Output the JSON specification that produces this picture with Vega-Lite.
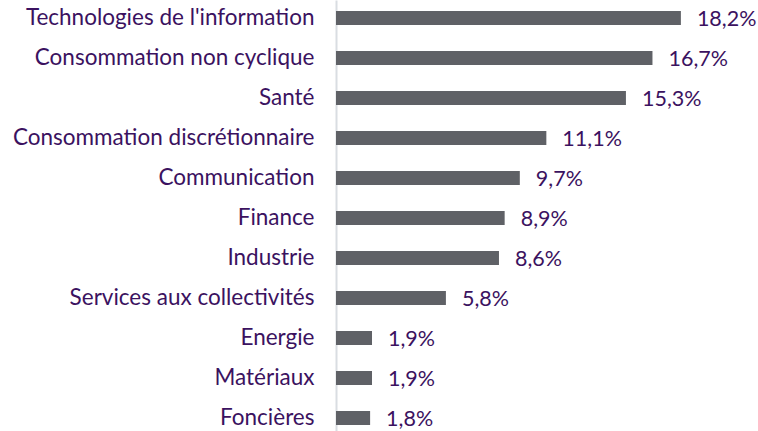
{
  "$schema": "https://vega.github.io/schema/vega-lite/v6.json",
  "width": 379,
  "height": 436,
  "autosize": {"type": "none"},
  "padding": {"left": 336, "top": 0, "right": 43, "bottom": 0},
  "background": "white",
  "config": {"view": {"stroke": null}, "font": "Lato"},
  "data": {
    "values": [
      {"secteur": "Technologies de l'information", "valeur": 18.2, "label": "18,2%"},
      {"secteur": "Consommation non cyclique", "valeur": 16.7, "label": "16,7%"},
      {"secteur": "Santé", "valeur": 15.3, "label": "15,3%"},
      {"secteur": "Consommation discrétionnaire", "valeur": 11.1, "label": "11,1%"},
      {"secteur": "Communication", "valeur": 9.7, "label": "9,7%"},
      {"secteur": "Finance", "valeur": 8.9, "label": "8,9%"},
      {"secteur": "Industrie", "valeur": 8.6, "label": "8,6%"},
      {"secteur": "Services aux collectivités", "valeur": 5.8, "label": "5,8%"},
      {"secteur": "Energie", "valeur": 1.9, "label": "1,9%"},
      {"secteur": "Matériaux", "valeur": 1.9, "label": "1,9%"},
      {"secteur": "Foncières", "valeur": 1.8, "label": "1,8%"}
    ]
  },
  "encoding": {
    "y": {
      "field": "secteur",
      "type": "nominal",
      "sort": null,
      "scale": {"paddingInner": 0.65, "paddingOuter": 0.275},
      "axis": {
        "title": null,
        "ticks": false,
        "labelPadding": 22,
        "labelFontSize": 22.5,
        "labelColor": "#3b1260",
        "labelFont": "Lato",
        "domainColor": "#d9dde2",
        "domainWidth": 2,
        "labelLimit": 400
      }
    },
    "x": {
      "field": "valeur",
      "type": "quantitative",
      "scale": {"domain": [0, 20]},
      "axis": null
    }
  },
  "layer": [
    {"mark": {"type": "bar", "color": "#5f6166", "clip": false}},
    {
      "mark": {"type": "text", "align": "left", "baseline": "middle", "dx": 16, "dy": 2, "fontSize": 21.5, "color": "#3b1260", "font": "Lato", "clip": false},
      "encoding": {"text": {"field": "label"}}
    }
  ]
}
